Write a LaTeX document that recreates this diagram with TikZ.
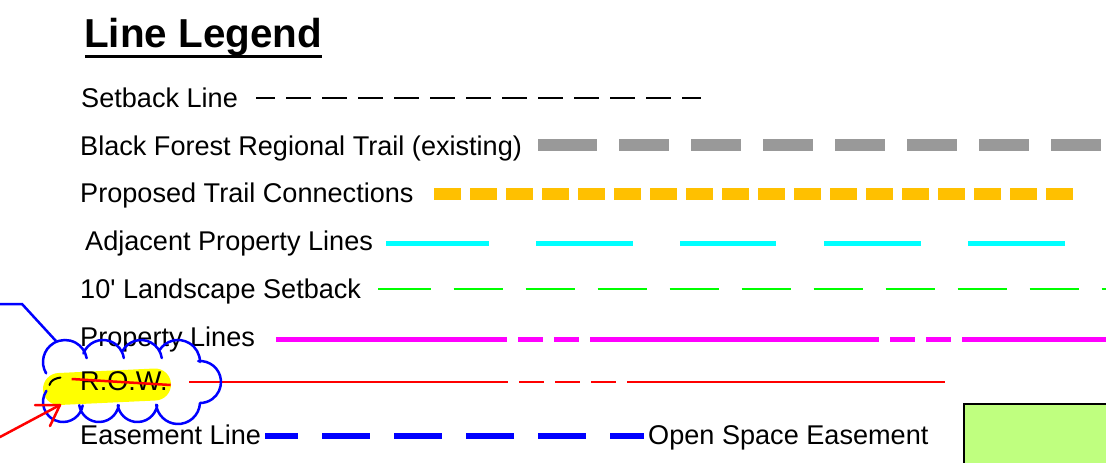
\documentclass[tikz,border=0pt]{standalone}
\usepackage{fontspec}
\setmainfont{Liberation Sans}
\definecolor{trailgray}{HTML}{999999}
\definecolor{trailorange}{HTML}{FFC000}
\definecolor{adjcyan}{HTML}{00FFFF}
\definecolor{landgreen}{HTML}{00FF00}
\definecolor{propmag}{HTML}{FF00FF}
\definecolor{rowred}{HTML}{FF0000}
\definecolor{easeblue}{HTML}{0000FF}
\definecolor{openfill}{HTML}{BFFF7F}
\definecolor{hilite}{HTML}{FFFF00}
\begin{document}
\begin{tikzpicture}[x=1pt,y=-1pt,line cap=butt,
  lbl/.style={anchor=base west,inner sep=0pt,font=\fontsize{27.1}{32}\selectfont},
  titlelbl/.style={anchor=base west,inner sep=0pt,font=\fontsize{40.4}{46}\selectfont\bfseries},
  setbackln/.style={draw=black,line width=2pt,dash pattern=on 25pt off 11pt,dash phase=6pt},
  trailln/.style={draw=trailgray,line width=12pt,dash pattern=on 59pt off 22pt on 50pt off 22pt on 50pt off 22pt on 50pt off 22pt on 50pt off 22pt on 50pt off 22pt on 50pt off 22pt on 50pt off 22pt},
  propln/.style={draw=trailorange,line width=12pt,dash pattern=on 27pt off 9pt},
  adjln/.style={draw=adjcyan,line width=5pt,dash pattern=on 102.5pt off 47.7pt on 96.4pt off 47.8pt on 95.9pt off 47.7pt on 96.5pt off 47.3pt on 97pt off 50pt},
  landln/.style={draw=landgreen,line width=2.5pt,dash pattern=on 53pt off 22.6pt on 49.4pt off 22.6pt on 49.4pt off 22.6pt on 49.4pt off 22.6pt on 49.4pt off 22.6pt on 49.4pt off 22.6pt on 49.4pt off 22.6pt on 49.4pt off 22.6pt on 49.4pt off 22.6pt on 49.4pt off 22.6pt on 49.4pt off 22.6pt},
  propertyln/.style={draw=propmag,line width=5pt,dash pattern=on 289pt off 11pt on 25pt off 11pt on 25pt off 11pt,dash phase=58pt},
  rowln/.style={draw=rowred,line width=1.6pt,dash pattern=on 318.7pt off 11.3pt on 24.7pt off 11.3pt on 24.7pt off 11.3pt on 24.7pt off 11.3pt on 400pt off 10pt},
  easeln/.style={draw=easeblue,line width=6pt,dash pattern=on 48pt off 24pt,dash phase=15pt},
  cloudln/.style={draw=easeblue,line width=2.5pt,line cap=round},
  markup/.style={line width=2.5pt,line cap=round,line join=round}]
\useasboundingbox (0,0) rectangle (1106,463);

% title
\node[titlelbl] (ttl) at (84,47) {Line Legend};
\coordinate (ulA) at (85,56.5);
\coordinate (ulB) at (322,56.5);
\draw[line width=2.5pt] (ulA) -- (ulB);

% highlight behind R.O.W.
\coordinate (hlA) at (59,389);
\coordinate (hlB) at (155,384.5);
\draw[hilite,line width=32pt,line cap=round] (hlA) -- (hlB);

% labels
\node[lbl] (t1) at (81,107.5) {Setback Line};
\node[lbl] (t2) at (80,155.5) {Black Forest Regional Trail (existing)};
\node[lbl] (t3) at (80,202.5) {Proposed Trail Connections};
\node[lbl] (t4) at (85,250.5) {Adjacent Property Lines};
\node[lbl] (t5) at (80,298.5) {10\textquotesingle{} Landscape Setback};
\node[lbl] (t6) at (80,346.5) {Property Lines};
\node[lbl] (t7) at (80,390) {R.O.W.};
\node[lbl] (t8) at (80,444.5) {Easement Line};
\node[lbl] (t9) at (648,444.5) {Open Space Easement};

% sample lines
\coordinate (s1a) at (256,98);   \coordinate (s1b) at (701,98);
\coordinate (s2a) at (538,145);  \coordinate (s2b) at (1101,145);
\coordinate (s3a) at (434,194);  \coordinate (s3b) at (1077,194);
\coordinate (s4a) at (386,243);  \coordinate (s4b) at (1065,243);
\coordinate (s5a) at (378,289);  \coordinate (s5b) at (1106,289);
\coordinate (s6a) at (276,339);  \coordinate (s6b) at (1106,339);
\coordinate (s7a) at (189,382);  \coordinate (s7b) at (945,382);
\coordinate (s8a) at (265,436);  \coordinate (s8b) at (644,436);
\draw[setbackln] (s1a) -- (s1b);
\draw[trailln] (s2a) -- (s2b);
\draw[propln] (s3a) -- (s3b);
\draw[adjln] (s4a) -- (s4b);
\draw[landln] (s5a) -- (s5b);
\draw[propertyln] (s6a) -- (s6b);
\draw[rowln] (s7a) -- (s7b);
\draw[easeln] (s8a) -- (s8b);

% open space easement swatch
\node[draw=black,fill=openfill,line width=1.5pt,anchor=north west,inner sep=0pt,
      minimum width=160pt,minimum height=70pt] (osbox) at (963,403) {};

% red strike through R.O.W.
\coordinate (stA) at (71.7,379);
\coordinate (stB) at (170.7,385);
\draw[rowred,line width=2.5pt] (stA) -- (stB);

% black hook
\coordinate (hkA) at (60.5,377.5);
\coordinate (hkB) at (49.5,385);
\draw[black,line width=2pt,line cap=round] (hkA) .. controls (55,378.3) and (50.5,380.5) .. (hkB);

% revision cloud
\draw[cloudln]
  (65,362) ++(149:22) arc[start angle=149,end angle=350,radius=22]
  (103,361) ++(201:21) arc[start angle=201,end angle=352,radius=21]
  (141,361) ++(208:21) arc[start angle=208,end angle=352,radius=21]
  (178,362) ++(211:22) arc[start angle=211,end angle=360,radius=22]
  (200,382) ++(265:21) arc[start angle=265,end angle=450,radius=21]
  (178,402) ++(3:22) arc[start angle=3,end angle=173,radius=22]
  (137.5,402) ++(9:20) arc[start angle=9,end angle=171,radius=20]
  (99,402) ++(9:20) arc[start angle=9,end angle=171,radius=20]
  (63,402) ++(10:20) arc[start angle=10,end angle=214,radius=20];

% blue leader
\coordinate (ldA) at (0,304);
\coordinate (ldB) at (22,304);
\coordinate (ldC) at (56,341);
\draw[cloudln,line cap=butt] (ldA) -- (ldB) -- (ldC);

% red arrow
\coordinate (arA) at (0,437);
\coordinate (arTip) at (60,405);
\coordinate (arB1) at (35,405);
\coordinate (arB2) at (50,426);
\draw[rowred,markup] (arA) -- (arTip);
\draw[rowred,markup] (arB1) -- (arTip) -- (arB2);
\end{tikzpicture}
\end{document}
